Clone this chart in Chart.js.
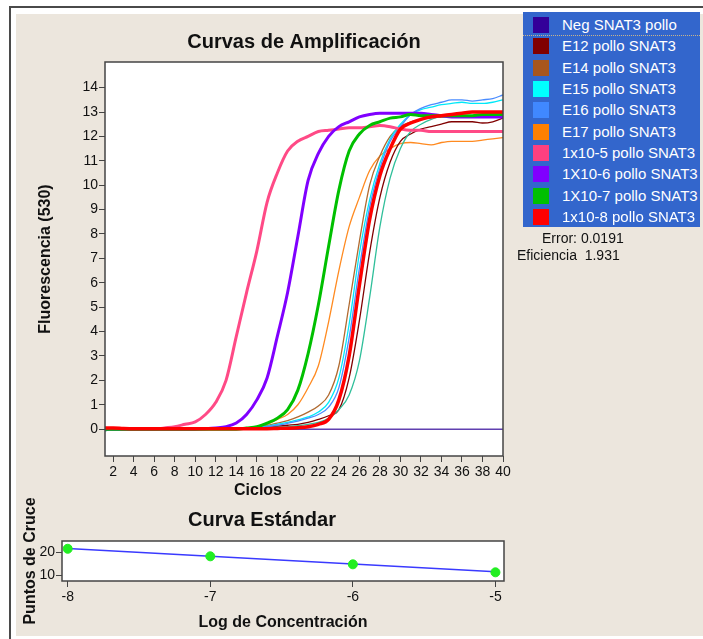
<!DOCTYPE html>
<html>
<head>
<meta charset="utf-8">
<script src="https://cdn.jsdelivr.net/npm/chart.js@4.4.1/dist/chart.umd.min.js"></script>
<style>
body{margin:0;background:#fff;width:703px;height:639px;overflow:hidden;position:relative;font-family:"Liberation Sans",Arial,sans-serif;}
#frame{position:absolute;left:9px;top:6px;width:700px;height:640px;border-left:2px solid #4a4a4a;border-top:2px solid #4a4a4a;}
#panel{position:absolute;left:16px;top:14px;width:687px;height:622px;background:#ece6dd;}
#mainBox{position:absolute;left:20px;top:14px;width:500px;height:490px;}
#stdBox{position:absolute;left:20px;top:488px;width:500px;height:148px;}
#legend{position:absolute;left:523px;top:12px;width:177px;height:215px;background:#3366cc;}
.row{position:absolute;left:0;width:177px;height:21px;}
.row.first{border-bottom:1px dotted #c9b48a;}
.sw{position:absolute;left:10px;top:3px;width:16px;height:16px;}
.lb{position:absolute;left:39px;top:2px;color:#fff;font-size:15px;white-space:nowrap;}
.stat{position:absolute;font-size:14px;color:#111;white-space:pre;}
#xTitle{position:absolute;left:208px;top:481px;width:100px;text-align:center;font-size:16px;font-weight:bold;color:#111;line-height:18px;}
</style>
</head>
<body>
<div id="frame"></div>
<div id="panel"></div>
<div id="mainBox"><canvas id="mainChart"></canvas></div>
<div id="stdBox"><canvas id="stdChart"></canvas></div>
<div id="xTitle">Ciclos</div>
<div id="legend"></div>
<div class="stat" style="left:542px;top:230px">Error: 0.0191</div>
<div class="stat" style="left:517px;top:247px">Eficiencia  1.931</div>
<script>
// amplification curves (cycle 1..40)
const cycles = [1,2,3,4,5,6,7,8,9,10,11,12,13,14,15,16,17,18,19,20,21,22,23,24,25,26,27,28,29,30,31,32,33,34,35,36,37,38,39,40];
const negPollo = [0,0,0,0,0,0,0,0,0,0,0,0,0,0,0,0,0,0,0,0,0,0,0,0,0,0,0,0,0,0,0,0,0,0,0,0,0,0,0,0];
const e12 = [0,0,0,0,0,0,0,0,0,0,0,0,0,0,0.02,0.05,0.08,0.12,0.16,0.2,0.28,0.4,0.55,0.8,2.1,4.45,7.25,9.5,10.95,11.8,12.1,12.3,12.4,12.5,12.6,12.6,12.6,12.55,12.6,12.75];
const e14 = [0,0,0,0,0,0,0,0,0,0,0,0,0,0,0.05,0.1,0.15,0.25,0.35,0.5,0.7,0.95,1.4,2.6,5.1,7.7,10.0,11.2,12.0,12.4,12.6,12.7,12.75,12.8,12.8,12.85,12.85,12.85,12.9,12.9];
const e15 = [0,0,0,0,0,0,0,0,0,0,0,0,0,0,0.03,0.08,0.12,0.2,0.28,0.38,0.5,0.7,1.1,2.1,4.3,7.2,9.4,10.9,11.9,12.5,12.9,13.1,13.2,13.3,13.35,13.4,13.35,13.35,13.4,13.5];
const e16 = [0,0,0,0,0,0,0,0,0,0,0,0,0,0,0.02,0.06,0.1,0.16,0.24,0.33,0.45,0.6,0.9,1.7,3.75,6.6,9.1,10.7,11.8,12.4,12.9,13.15,13.3,13.4,13.5,13.5,13.45,13.5,13.55,13.7];
const e17 = [0,0,0,0,0,0,0,0,0,0,0,0,0,0,0.05,0.1,0.2,0.4,0.6,1.0,1.7,2.6,4.4,6.5,8.3,9.5,10.6,11.2,11.5,11.7,11.75,11.7,11.65,11.75,11.8,11.8,11.8,11.85,11.9,11.95];
const dil5 = [0.02,0,0,0,0,0,0.05,0.1,0.2,0.3,0.6,1.1,2.0,3.8,5.6,7.3,9.3,10.5,11.4,11.8,12.0,12.2,12.25,12.3,12.35,12.35,12.4,12.45,12.4,12.3,12.25,12.25,12.2,12.2,12.2,12.2,12.2,12.2,12.2,12.2];
const dil6 = [0,0,0,0,0,0,0,0,0,0,0.02,0.05,0.1,0.25,0.6,1.2,2.1,3.8,5.6,7.9,10.2,11.3,12.0,12.4,12.6,12.8,12.9,12.95,12.95,12.95,12.95,12.95,12.9,12.85,12.8,12.8,12.8,12.8,12.8,12.8];
const dil7 = [0,0,0,0,0,0,0,0,0,0,0,0,0,0,0.05,0.1,0.25,0.45,0.8,1.6,3.1,5.1,7.5,9.8,11.4,12.1,12.45,12.6,12.75,12.8,12.9,12.85,12.85,12.85,12.85,12.85,12.85,12.9,12.9,12.9];
const dil8 = [0.05,0.05,0.03,0.02,0.02,0.02,0.02,0.02,0.02,0.02,0.02,0.02,0.02,0.02,0.02,0.02,0.02,0.03,0.04,0.06,0.1,0.2,0.4,1.2,3.0,5.9,8.6,10.4,11.5,12.3,12.55,12.7,12.8,12.85,12.9,12.95,13.0,13.0,13.0,13.0];
const extra = [-0.1,0,0,0,0,0,0,0,0,0,0,0,0,0,0,0,0.05,0.08,0.1,0.14,0.2,0.28,0.45,0.8,1.4,2.8,5.4,8.3,10.3,11.5,12.2,12.5,12.7,12.8,12.8,12.85,12.85,12.85,12.9,12.9];

const seriesNames = ['Neg SNAT3 pollo','E12 pollo SNAT3','E14 pollo SNAT3','E15 pollo SNAT3','E16 pollo SNAT3','E17 pollo SNAT3','1x10-5 pollo SNAT3','1X10-6 pollo SNAT3','1X10-7 pollo SNAT3','1x10-8 pollo SNAT3'];
const seriesData = [negPollo,e12,e14,e15,e16,e17,dil5,dil6,dil7,dil8];
const seriesColors = ['#330099','#800000','#a8561e','#00ffff','#4088ff','#ff8000','#ff4080','#8000ff','#00c000','#ff0000'];
const lineColors = ['#6040b0','#800000','#b06a30','#00e8f8','#4a8cff','#ff8a20','#ff4a86','#8000ff','#00c000','#ff0000'];
const lineWidths = [1.5,1.3,1.3,1.3,1.3,1.3,3,3,3,3.5];
const drawOrder = [12,7,8,6,5,9,3,2,1,0];
const extraColor = '#2fbf9a';

const xTicks = [2,4,6,8,10,12,14,16,18,20,22,24,26,28,30,32,34,36,38,40];
const yTicks = [0,1,2,3,4,5,6,7,8,9,10,11,12,13,14];

// standard curve
const logConc = [-8,-7,-6,-5];
const crossPts = [21.6,18.3,14.8,11.3];
const fitX = [-8,-5];
const fitY = [21.7,11.5];
const stdXTicks = [-8,-7,-6,-5];
const stdYTicks = [10,20];

Chart.defaults.font.family = '"Liberation Sans", Arial, sans-serif';
Chart.defaults.color = '#111';

const plotFrame = {
  id: 'plotFrame',
  beforeDraw(chart) {
    const a = chart.chartArea, ctx = chart.ctx;
    ctx.save();
    ctx.fillStyle = '#fff';
    ctx.fillRect(a.left, a.top, a.right - a.left, a.bottom - a.top);
    ctx.restore();
  },
  afterDraw(chart) {
    const a = chart.chartArea, ctx = chart.ctx;
    ctx.save();
    ctx.strokeStyle = '#444';
    ctx.lineWidth = 1.5;
    ctx.strokeRect(a.left, a.top, a.right - a.left, a.bottom - a.top);
    ctx.restore();
  }
};

function pts(xs, ys) {
  return xs.map((x, i) => ({x: x, y: ys[i]}));
}

const datasets = seriesData.map((d, i) => ({
  label: seriesNames[i],
  data: pts(cycles, d),
  borderColor: lineColors[i],
  borderWidth: lineWidths[i],
  pointRadius: 0,
  cubicInterpolationMode: 'monotone',
  order: drawOrder[i]
}));
datasets.push({
  label: '',
  data: pts(cycles, extra),
  borderColor: extraColor,
  borderWidth: 1.3,
  pointRadius: 0,
  cubicInterpolationMode: 'monotone',
  order: 4
});

const tickGrid = {drawOnChartArea: false, drawTicks: true, tickLength: 6, tickColor: '#444'};

new Chart(document.getElementById('mainChart'), {
  type: 'line',
  data: {datasets: datasets},
  options: {
    responsive: true,
    maintainAspectRatio: false,
    animation: false,
    layout: {padding: {left: 0, right: 17, top: 0, bottom: 0}},
    plugins: {
      legend: {display: false},
      tooltip: {enabled: false},
      title: {
        display: true,
        fullSize: false,
        text: 'Curvas de Amplificación',
        font: {size: 20, weight: 'bold'},
        color: '#111',
        padding: {top: 16, bottom: 8}
      }
    },
    scales: {
      x: {
        type: 'linear',
        min: 1.2,
        max: 40,
        afterBuildTicks: s => { s.ticks = xTicks.map(v => ({value: v})); },
        afterFit: s => { s.height = 48; },
        grid: tickGrid,
        border: {display: false},
        ticks: {font: {size: 14}, color: '#111', maxRotation: 0, autoSkip: false, padding: 2}
      },
      y: {
        min: -1.1,
        max: 15.05,
        afterBuildTicks: s => { s.ticks = yTicks.map(v => ({value: v})); },
        afterFit: s => { s.width = 85; },
        grid: tickGrid,
        border: {display: false},
        ticks: {font: {size: 14}, color: '#111', padding: 1},
        title: {display: true, text: 'Fluorescencia (530)', font: {size: 16, weight: 'bold'}, color: '#111', padding: {top: 16, bottom: 0}}
      }
    }
  },
  plugins: [plotFrame]
});

new Chart(document.getElementById('stdChart'), {
  type: 'scatter',
  data: {
    datasets: [
      {label: 'Puntos', data: pts(logConc, crossPts), backgroundColor: '#22ee22', borderColor: '#22ee22', pointRadius: 4.5, order: 0},
      {label: 'Ajuste', type: 'line', data: pts(fitX, fitY), borderColor: '#3a3aff', borderWidth: 1.5, pointRadius: 0, order: 1}
    ]
  },
  options: {
    responsive: true,
    maintainAspectRatio: false,
    animation: false,
    layout: {padding: {left: 0, right: 16, top: 0, bottom: 0}},
    plugins: {
      legend: {display: false},
      tooltip: {enabled: false},
      title: {
        display: true,
        text: 'Curva Estándar',
        font: {size: 20, weight: 'bold'},
        color: '#111',
        padding: {top: 20, bottom: 9}
      }
    },
    scales: {
      x: {
        type: 'linear',
        min: -8.04,
        max: -4.94,
        afterBuildTicks: s => { s.ticks = stdXTicks.map(v => ({value: v})); },
        afterFit: s => { s.height = 55; },
        grid: tickGrid,
        border: {display: false},
        ticks: {font: {size: 14}, color: '#111', maxRotation: 0, autoSkip: false, padding: 2},
        title: {display: true, text: 'Log de Concentración', font: {size: 16, weight: 'bold'}, color: '#111', padding: {top: 0, bottom: 4}}
      },
      y: {
        min: 7.5,
        max: 25,
        afterBuildTicks: s => { s.ticks = stdYTicks.map(v => ({value: v})); },
        afterFit: s => { s.width = 42; },
        grid: tickGrid,
        border: {display: false},
        ticks: {font: {size: 14}, color: '#111', padding: 1},
        title: {display: true, text: 'Puntos de Cruce', font: {size: 16, weight: 'bold'}, color: '#111', padding: {top: 1, bottom: 0}}
      }
    }
  },
  plugins: [plotFrame]
});

// legend box
const legend = document.getElementById('legend');
seriesNames.forEach((name, i) => {
  const row = document.createElement('div');
  row.className = i === 0 ? 'row first' : 'row';
  row.style.top = (2 + i * 21.33) + 'px';
  row.innerHTML = '<div class="sw" style="background:' + seriesColors[i] + '"></div><div class="lb">' + name + '</div>';
  legend.appendChild(row);
});
</script>
</body>
</html>
